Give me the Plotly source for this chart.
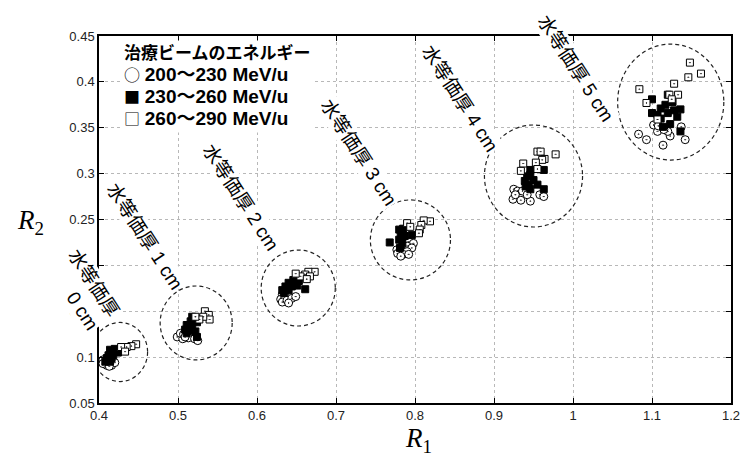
import plotly.graph_objects as go

# ---- data ----
# 200~230 MeV/u (open circles)
e1_r1 = [0.405, 0.410, 0.416, 0.420, 0.405, 0.413,
         0.499, 0.506, 0.503, 0.507, 0.513, 0.521, 0.525, 0.509,
         0.632, 0.636, 0.630, 0.634, 0.632, 0.638, 0.644, 0.649, 0.640,
         0.792, 0.798, 0.790, 0.796, 0.777, 0.784, 0.790, 0.778, 0.785, 0.792, 0.782,
         0.925, 0.930, 0.936, 0.958, 0.963, 0.924, 0.934, 0.946, 0.942, 0.927,
         1.083, 1.093, 1.114, 1.142, 1.137, 1.123, 1.107, 1.102, 1.108, 1.120, 1.115]
e1_r2 = [0.097, 0.091, 0.091, 0.094, 0.093, 0.090,
         0.122, 0.120, 0.126, 0.125, 0.121, 0.120, 0.118, 0.122,
         0.168, 0.166, 0.163, 0.162, 0.160, 0.162, 0.164, 0.166, 0.159,
         0.226, 0.224, 0.221, 0.219, 0.217, 0.216, 0.215, 0.213, 0.212, 0.212, 0.210,
         0.283, 0.281, 0.281, 0.277, 0.275, 0.272, 0.271, 0.270, 0.277, 0.277,
         0.343, 0.337, 0.331, 0.337, 0.351, 0.341, 0.346, 0.353, 0.352, 0.346, 0.348]

# 230~260 MeV/u (filled squares)
e2_r1 = [0.414, 0.420, 0.424, 0.412, 0.418, 0.410, 0.416, 0.408, 0.414,
         0.518, 0.516, 0.524, 0.511, 0.518, 0.509, 0.515, 0.522, 0.511, 0.524,
         0.640, 0.646, 0.653, 0.636, 0.644, 0.651, 0.661, 0.632, 0.640, 0.634,
         0.768, 0.780, 0.785, 0.782, 0.780, 0.784, 0.787, 0.796, 0.781,
         0.946, 0.963, 0.942, 0.946, 0.950, 0.939, 0.944, 0.955, 0.963, 0.946, 0.940,
         1.100, 1.120, 1.126, 1.117, 1.111, 1.100, 1.120, 1.128, 1.136, 1.132, 1.111, 1.123, 1.114, 1.136, 1.107]
e2_r2 = [0.108, 0.109, 0.105, 0.102, 0.102, 0.099, 0.099, 0.095, 0.095,
         0.144, 0.139, 0.138, 0.135, 0.133, 0.130, 0.129, 0.128, 0.126, 0.122,
         0.181, 0.184, 0.183, 0.177, 0.177, 0.178, 0.174, 0.173, 0.173, 0.170,
         0.225, 0.239, 0.240, 0.233, 0.228, 0.224, 0.232, 0.233, 0.219,
         0.304, 0.304, 0.297, 0.299, 0.293, 0.292, 0.288, 0.288, 0.283, 0.283, 0.286,
         0.381, 0.386, 0.378, 0.375, 0.371, 0.366, 0.366, 0.369, 0.370, 0.362, 0.360, 0.354, 0.351, 0.346, 0.364]

# 260~290 MeV/u (open squares)
e3_r1 = [0.447, 0.441, 0.435, 0.428, 0.433,
         0.534, 0.539, 0.540, 0.532, 0.527, 0.522,
         0.673, 0.665, 0.661, 0.667, 0.655, 0.649, 0.663,
         0.819, 0.811, 0.808, 0.806, 0.790, 0.794, 0.805,
         0.955, 0.959, 0.978, 0.964, 0.961, 0.937, 0.953, 0.934, 0.955,
         1.148, 1.162, 1.146, 1.128, 1.084, 1.133, 1.122, 1.093, 1.125, 1.107]
e3_r2 = [0.114, 0.112, 0.111, 0.111, 0.106,
         0.150, 0.146, 0.141, 0.144, 0.141, 0.144,
         0.193, 0.193, 0.190, 0.188, 0.188, 0.191, 0.185,
         0.248, 0.249, 0.244, 0.239, 0.246, 0.242, 0.235,
         0.324, 0.324, 0.321, 0.316, 0.315, 0.311, 0.312, 0.303, 0.305,
         0.421, 0.409, 0.405, 0.398, 0.392, 0.386, 0.386, 0.377, 0.381, 0.359]

series_names = ["200〜230 MeV/u", "230〜260 MeV/u", "260〜290 MeV/u"]
series_glyphs = ["○", "■", "□"]
legend_title = "治療ビームのエネルギー"

# water-equivalent thickness groups
group_labels = ["水等価厚<br>0 cm", "水等価厚 1 cm", "水等価厚 2 cm",
                "水等価厚 3 cm", "水等価厚 4 cm", "水等価厚 5 cm"]
circle_r1 = [0.4266, 0.523, 0.6522, 0.7942, 0.950, 1.1237]
circle_r2 = [0.1056, 0.1372, 0.1753, 0.2277, 0.2974, 0.378]
circle_dr1 = [0.0349, 0.0456, 0.0469, 0.0507, 0.0621, 0.0672]
circle_dr2 = [0.0322, 0.0403, 0.0414, 0.0436, 0.0556, 0.0632]

x_ticks = [0.4, 0.5, 0.6, 0.7, 0.8, 0.9, 1.0, 1.1, 1.2]
x_ticktext = ["0.4", "0.5", "0.6", "0.7", "0.8", "0.9", "1", "1.1", "1.2"]
y_ticks = [0.05, 0.1, 0.15, 0.2, 0.25, 0.3, 0.35, 0.4, 0.45]
y_ticktext = ["0.05", "0.1", "0.15", "0.2", "0.25", "0.3", "0.35", "0.4", "0.45"]

# label placement (paper coordinates, layout only)
label_px = [-0.025, 0.0728, 0.2247, 0.4114, 0.5712, 0.7547]
label_py = [0.308, 0.455, 0.5613, 0.6839, 0.830, 0.9128]

# ---- figure ----
fig = go.Figure()
fig.add_trace(go.Scatter(
    x=e1_r1, y=e1_r2, mode="markers", name=series_names[0], showlegend=False,
    marker=dict(symbol="circle-dot", size=8, color="white",
                line=dict(color="black", width=1))))
fig.add_trace(go.Scatter(
    x=e2_r1, y=e2_r2, mode="markers", name=series_names[1], showlegend=False,
    marker=dict(symbol="square", size=7, color="black",
                line=dict(color="black", width=1))))
fig.add_trace(go.Scatter(
    x=e3_r1, y=e3_r2, mode="markers", name=series_names[2], showlegend=False,
    marker=dict(symbol="square-dot", size=7, color="white",
                line=dict(color="black", width=1))))

for cx, cy, rx, ry in zip(circle_r1, circle_r2, circle_dr1, circle_dr2):
    fig.add_shape(type="circle", xref="x", yref="y",
                  x0=cx - rx, x1=cx + rx, y0=cy - ry, y1=cy + ry,
                  line=dict(color="#222", width=1.2, dash="4px,3px"))

label_font = dict(family="Liberation Sans, Noto Sans CJK JP", size=19, color="black")
for i, (txt, lx, ly) in enumerate(zip(group_labels, label_px, label_py)):
    fig.add_annotation(x=lx, y=ly, xref="paper", yref="paper", text=txt, showarrow=False,
                       textangle=57, font=label_font, bgcolor="white",
                       xanchor="center", yanchor="middle",
                       align="right" if i == 0 else "left")

# legend block (text legend as in the original figure)
glyph_span = ('<span style="font-family:\'Noto Sans CJK JP\';font-weight:normal;'
              'font-size:16px">{}</span>')
entry_span = '<span style="font-size:19px">{}</span>'
legend_lines = [legend_title] + [glyph_span.format(g) + "\u00a0" + entry_span.format(n)
                                 for g, n in zip(series_glyphs, series_names)]
fig.add_annotation(x=0.035, y=0.988, xref="paper", yref="paper",
                   text="<br>".join(legend_lines), showarrow=False,
                   xanchor="left", yanchor="top", align="left",
                   bgcolor="white", borderpad=2,
                   font=dict(family="Liberation Sans, Noto Sans CJK JP", size=17,
                             color="black", weight="bold"))

fig.add_annotation(x=-0.109, y=0.493, xref="paper", yref="paper",
                   xanchor="center", yanchor="middle",
                   text="<i>R</i><sub>2</sub>", showarrow=False,
                   font=dict(family="Liberation Serif, Times New Roman", size=27, color="black"))
fig.add_annotation(x=0.505, y=-0.1, xref="paper", yref="paper",
                   xanchor="center", yanchor="middle",
                   text="<i>R</i><sub>1</sub>", showarrow=False,
                   font=dict(family="Liberation Serif, Times New Roman", size=27, color="black"))

axis_common = dict(
    showline=True, linecolor="black", linewidth=1.5, mirror="ticks",
    ticks="inside", ticklen=5, tickcolor="black", tickwidth=1,
    showgrid=True, gridcolor="#b8b8b8", gridwidth=1, griddash="dot",
    zeroline=False, automargin=False,
    tickfont=dict(family="Liberation Sans, Arial", size=13, color="#222"),
)
fig.update_xaxes(range=[0.4, 1.2], tickvals=x_ticks, ticktext=x_ticktext, **axis_common)
fig.update_yaxes(range=[0.05, 0.45], tickvals=y_ticks, ticktext=y_ticktext, **axis_common)

fig.update_layout(
    template="none",
    width=743, height=459,
    margin=dict(l=99, r=12, t=36, b=56),
    plot_bgcolor="white", paper_bgcolor="white",
    showlegend=False,
)

fig.write_html("out.html")
